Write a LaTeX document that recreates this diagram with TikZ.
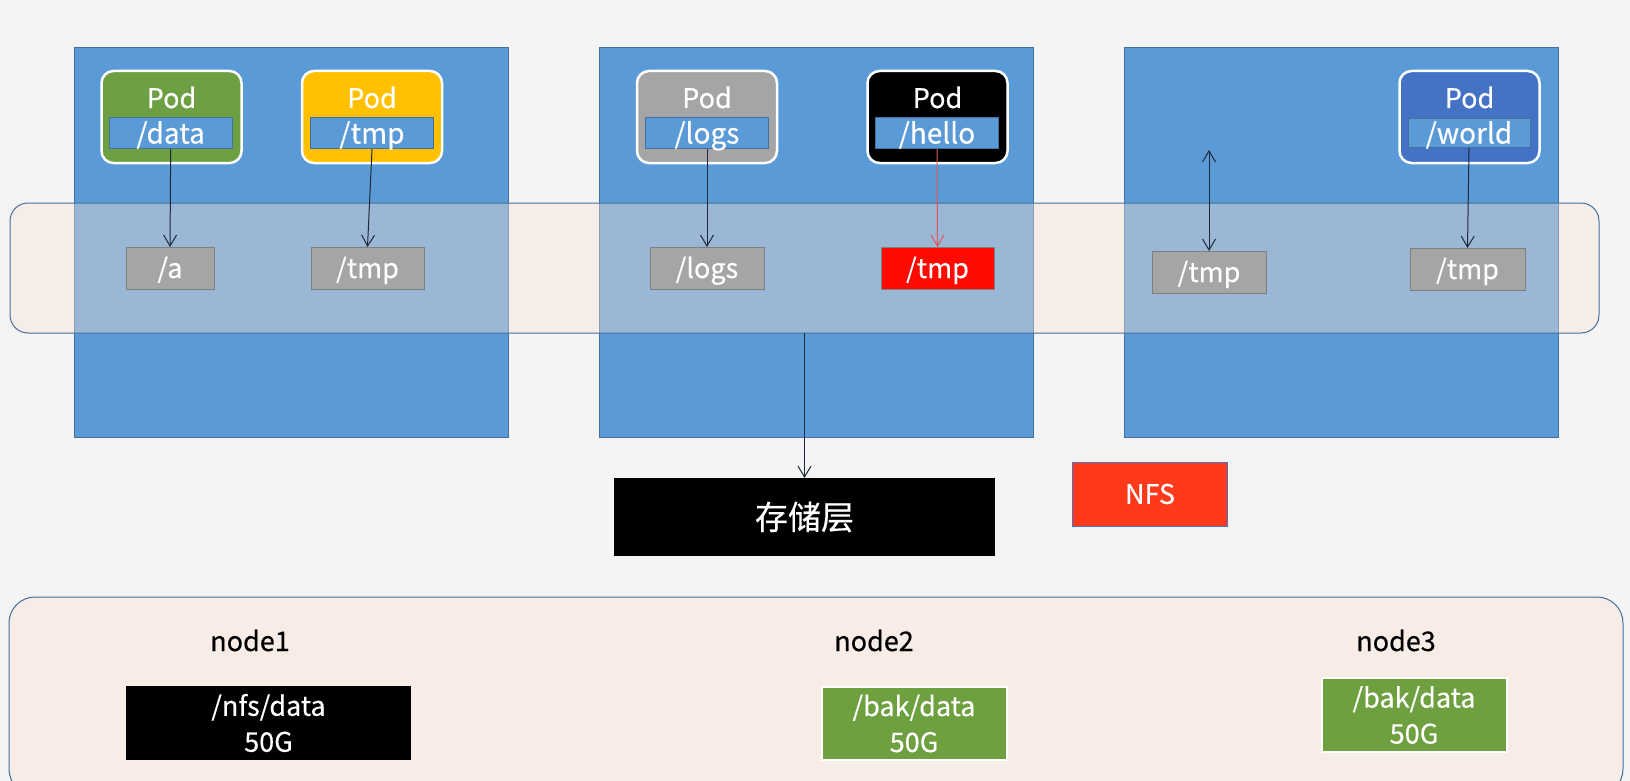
\documentclass[tikz,border=0pt]{standalone}
\usepackage{fontspec}
\setmainfont{Noto Sans CJK SC}[FakeBold=0.35]
\usetikzlibrary{arrows.meta}
\definecolor{bgc}{HTML}{F4F4F4}
\definecolor{hostblue}{HTML}{5A9AD6}
\definecolor{hostedge}{HTML}{41719C}
\definecolor{peach}{HTML}{FCE4D6}
\definecolor{podgreen}{HTML}{6CA043}
\definecolor{podyellow}{HTML}{FFC000}
\definecolor{podgray}{HTML}{A5A5A5}
\definecolor{podblue}{HTML}{4472C4}
\definecolor{dirgray}{HTML}{A5A5A5}
\definecolor{diredge}{HTML}{7F7F7F}
\definecolor{dirred}{HTML}{FF0A00}
\definecolor{nfsred}{HTML}{FF3A1A}
\definecolor{bakgreen}{HTML}{6FA03F}
\definecolor{arrowc}{HTML}{1E2838}
\definecolor{redarrow}{HTML}{E05555}
\tikzset{
  host/.style={draw=hostedge, fill=hostblue, line width=1pt, minimum width=434pt, minimum height=389pt, inner sep=0pt, outer sep=0pt},
  bandbox/.style={draw=hostedge, fill=peach, fill opacity=0.4, line width=1pt, inner sep=0pt, outer sep=0pt},
  podbox/.style={draw=white, line width=2.5pt, rounded corners=12pt, minimum width=140pt, minimum height=92pt, inner sep=0pt, outer sep=0pt},
  podlabel/.style={anchor=base, text=white, font=\fontsize{27}{32}\selectfont, inner sep=0pt},
  vol/.style={fill=hostblue, draw=hostedge, line width=1pt, minimum width=123pt, minimum height=31pt, text=white, font=\fontsize{28}{30}\selectfont, inner sep=0pt, outer sep=0pt, text height=22pt, text depth=2pt},
  dirbox/.style={fill=dirgray, draw=diredge, line width=1pt, minimum height=42pt, text=white, font=\fontsize{27}{30}\selectfont, inner sep=0pt, outer sep=0pt, text height=22pt, text depth=2pt},
  arr/.style={draw=arrowc, line width=1pt, -{Straight Barb[length=11pt,width=13pt]}},
  hostname/.style={anchor=base, text=black, font=\fontsize{27}{30}\selectfont, inner sep=0pt},
  diskbox/.style={text=white, align=center, font=\fontsize{27}{36}\selectfont, inner sep=0pt, outer sep=0pt, minimum height=74pt},
}
\begin{document}
\begin{tikzpicture}[x=1pt,y=-1pt]
\useasboundingbox (0,0) rectangle (1630,781);
\clip (0,0) rectangle (1630,781);
\fill[bgc] (0,0) rectangle (1630,781);

% hosts
\node[host] (h1) at (291.5,242.5) {};
\node[host] (h2) at (816,242.5) {};
\node[host] (h3) at (1341,242.5) {};

% volume band
\node[bandbox, rounded corners=18pt, minimum width=1589pt, minimum height=130pt] (band) at (804.5,268) {};

% pods
\node[podbox, fill=podgreen] (p1) at (171.5,117) {};
\node[podbox, fill=podyellow] (p2) at (372,117) {};
\node[podbox, fill=podgray] (p3) at (707,117) {};
\node[podbox, fill=black] (p4) at (937.5,117) {};
\node[podbox, fill=podblue] (p5) at (1469.5,117) {};

\node[podlabel] (l1) at (171.5,108) {Pod};
\node[podlabel] (l2) at (372,108) {Pod};
\node[podlabel] (l3) at (707,108) {Pod};
\node[podlabel] (l4) at (937.5,108) {Pod};
\node[podlabel] (l5) at (1469.5,108) {Pod};

\node[vol] (v1) at (170.7,133.5) {/data};
\node[vol] (v2) at (372,133.5) {/tmp};
\node[vol] (v3) at (707,133.5) {/logs};
\node[vol] (v4) at (937,133.5) {/hello};
\node[vol, minimum width=122pt, minimum height=29pt] (v5) at (1469,133.5) {/world};

% host dirs
\node[dirbox, minimum width=88pt] (d1) at (170,268) {/a};
\node[dirbox, minimum width=113pt] (d2) at (367.5,268) {/tmp};
\node[dirbox, minimum width=114pt] (d3) at (707,268) {/logs};
\node[dirbox, minimum width=113pt, fill=dirred] (d4) at (937.5,268) {/tmp};
\node[dirbox, minimum width=114pt] (d5) at (1209,272) {/tmp};
\node[dirbox, minimum width=115pt] (d6) at (1467.5,269) {/tmp};

\coordinate (up5) at (1209,150);

% mounts
\draw[arr] (v1.south) -- (d1.north);
\draw[arr] (v2.south) -- (d2.north);
\draw[arr] (v3.south) -- (d3.north);
\draw[arr, draw=redarrow] (v4.south) -- (d4.north);
\draw[arr] (v5.south) -- (d6.north);
\draw[draw=arrowc, line width=1pt, {Straight Barb[length=11pt,width=13pt]}-{Straight Barb[length=11pt,width=13pt]}] (up5) -- (d5.north);

% storage layer
\node[fill=black, minimum width=381pt, minimum height=78pt, inner sep=0pt, outer sep=0pt, text=white, font=\fontsize{33}{36}\selectfont] (store) at (804.5,517) {存储层};
\draw[arr] (store.north |- band.south) -- (store.north);

\node[fill=nfsred, draw=podblue, line width=1pt, minimum width=155pt, minimum height=64pt, inner sep=0pt, text=white, font=\fontsize{27}{30}\selectfont] (nfs) at (1150,494) {NFS};

% nodes band
\node[draw=hostedge, fill=peach, fill opacity=0.45, text opacity=1, line width=1pt, rounded corners=26pt, minimum width=1614pt, minimum height=198pt, inner sep=0pt] (nodes) at (816,696) {};

\node[hostname] (n1) at (250,651) {node1};
\node[hostname] (n2) at (874,651) {node2};
\node[hostname] (n3) at (1396,651) {node3};

\node[diskbox, fill=black, minimum width=285pt] (k1) at (268.5,723) {/nfs/data\\50G};
\node[diskbox, fill=bakgreen, draw=white, line width=2pt, minimum width=185pt, minimum height=73pt] (k2) at (914,723.5) {/bak/data\\50G};
\node[diskbox, fill=bakgreen, draw=white, line width=2pt, minimum width=185pt] (k3) at (1414,715) {/bak/data\\50G};
\end{tikzpicture}
\end{document}
